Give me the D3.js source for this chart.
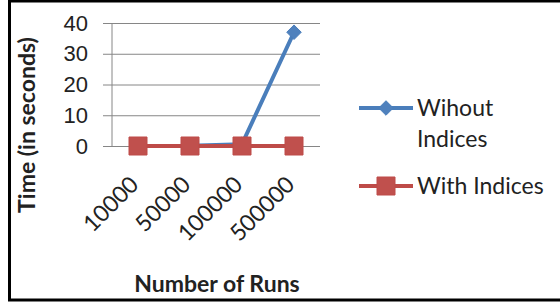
<!DOCTYPE html>
<html>
<head>
<meta charset="utf-8">
<script src="https://cdn.jsdelivr.net/npm/d3@7"></script>
<style>
  body { margin: 0; background: #fff; }
  svg { display: block; font-family: Lato, "Open Sans", sans-serif; }
</style>
</head>
<body>
<svg width="560" height="302"></svg>
<script>
// chart data
const runs = ["10000", "50000", "100000", "500000"];
const withoutIndices = [0, 0.1, 0.6, 37];
const withIndices = [0, 0, 0, 0];
const yTicks = [0, 10, 20, 30, 40];
const seriesNames = ["Wihout Indices", "With Indices"];

const svg = d3.select("svg");

// outer frame (right edge is cut off in the picture)
svg.append("rect")
    .attr("x", 9.5).attr("y", 1)
    .attr("width", 600).attr("height", 299)
    .attr("fill", "#fff")
    .attr("stroke", "#000")
    .attr("stroke-width", 3);

const margin = { top: 23, left: 112, right: 320, bottom: 146 };

const x = d3.scaleBand().domain(runs).range([margin.left, margin.right]);
const y = d3.scaleLinear().domain([0, 40]).range([margin.bottom, margin.top]);

// gridlines + y ticks
const yAxis = svg.append("g")
    .attr("transform", `translate(${margin.left},0)`)
    .call(d3.axisLeft(y).tickValues(yTicks).tickSize(9).tickPadding(15));
yAxis.select(".domain").remove();
yAxis.selectAll(".tick line").attr("stroke", "#868686");
yAxis.selectAll(".tick").append("line")
    .attr("x1", 0).attr("x2", margin.right - margin.left)
    .attr("stroke", "#868686");
yAxis.selectAll("text")
    .attr("fill", "#222")
    .style("font-size", "22px");

// vertical axis line
svg.append("line")
    .attr("x1", margin.left).attr("x2", margin.left)
    .attr("y1", y(40)).attr("y2", y(0))
    .attr("stroke", "#868686");

// x labels
svg.append("g").selectAll("text")
    .data(runs)
    .join("text")
    .attr("transform", d => `translate(${x(d) + x.bandwidth() / 2 + 2},${186}) rotate(-45)`)
    .attr("text-anchor", "end")
    .attr("fill", "#222")
    .style("font-size", "23px")
    .text(d => d);

// axis titles
svg.append("text")
    .attr("transform", `translate(35,125) rotate(-90)`)
    .attr("text-anchor", "middle")
    .attr("font-weight", "bold")
    .attr("fill", "#222")
    .style("font-size", "23px")
    .text("Time (in seconds)");

svg.append("text")
    .attr("x", 217).attr("y", 292)
    .attr("text-anchor", "middle")
    .attr("font-weight", "bold")
    .attr("fill", "#222")
    .style("font-size", "23px")
    .text("Number of Runs");

const cx = d => x(d) + x.bandwidth() / 2;
const line = d3.line().x(d => cx(d.run)).y(d => y(d.v));

const blue = "#4a7ebb", red = "#be4b48";
const diamond = d3.symbol().type(d3.symbolDiamond2).size(135);
const square = d3.symbol().type(d3.symbolSquare).size(324);

const sWithout = runs.map((r, i) => ({ run: r, v: withoutIndices[i] }));
const sWith = runs.map((r, i) => ({ run: r, v: withIndices[i] }));

svg.append("path").datum(sWithout)
    .attr("d", line).attr("fill", "none")
    .attr("stroke", blue).attr("stroke-width", 4);
svg.append("g").selectAll("path").data(sWithout).join("path")
    .attr("transform", d => `translate(${cx(d.run)},${y(d.v)})`)
    .attr("d", diamond).attr("fill", "#4f81bd").attr("stroke", blue);

svg.append("path").datum(sWith)
    .attr("d", line).attr("fill", "none")
    .attr("stroke", red).attr("stroke-width", 4);
svg.append("g").selectAll("path").data(sWith).join("path")
    .attr("transform", d => `translate(${cx(d.run)},${y(d.v)})`)
    .attr("d", square).attr("fill", "#c0504d").attr("stroke", red);

// legend
const legend = svg.append("g");
const lg1 = legend.append("g").attr("transform", "translate(359,108)");
lg1.append("line").attr("x1", 0).attr("x2", 54)
    .attr("stroke", blue).attr("stroke-width", 4);
lg1.append("path").attr("transform", "translate(27,0)")
    .attr("d", diamond).attr("fill", "#4f81bd").attr("stroke", blue);
const t1 = lg1.append("text").attr("x", 58).attr("fill", "#222")
    .style("font-size", "23px");
t1.append("tspan").attr("x", 58).attr("dy", "0.35em").text("Wihout");
t1.append("tspan").attr("x", 58).attr("dy", 31).text("Indices");

const lg2 = legend.append("g").attr("transform", "translate(359,186)");
lg2.append("line").attr("x1", 0).attr("x2", 54)
    .attr("stroke", red).attr("stroke-width", 4);
lg2.append("path").attr("transform", "translate(27,0)")
    .attr("d", square).attr("fill", "#c0504d").attr("stroke", red);
lg2.append("text").attr("x", 58).attr("dy", "0.35em").attr("fill", "#222")
    .style("font-size", "23px")
    .text(seriesNames[1]);
</script>
</body>
</html>
